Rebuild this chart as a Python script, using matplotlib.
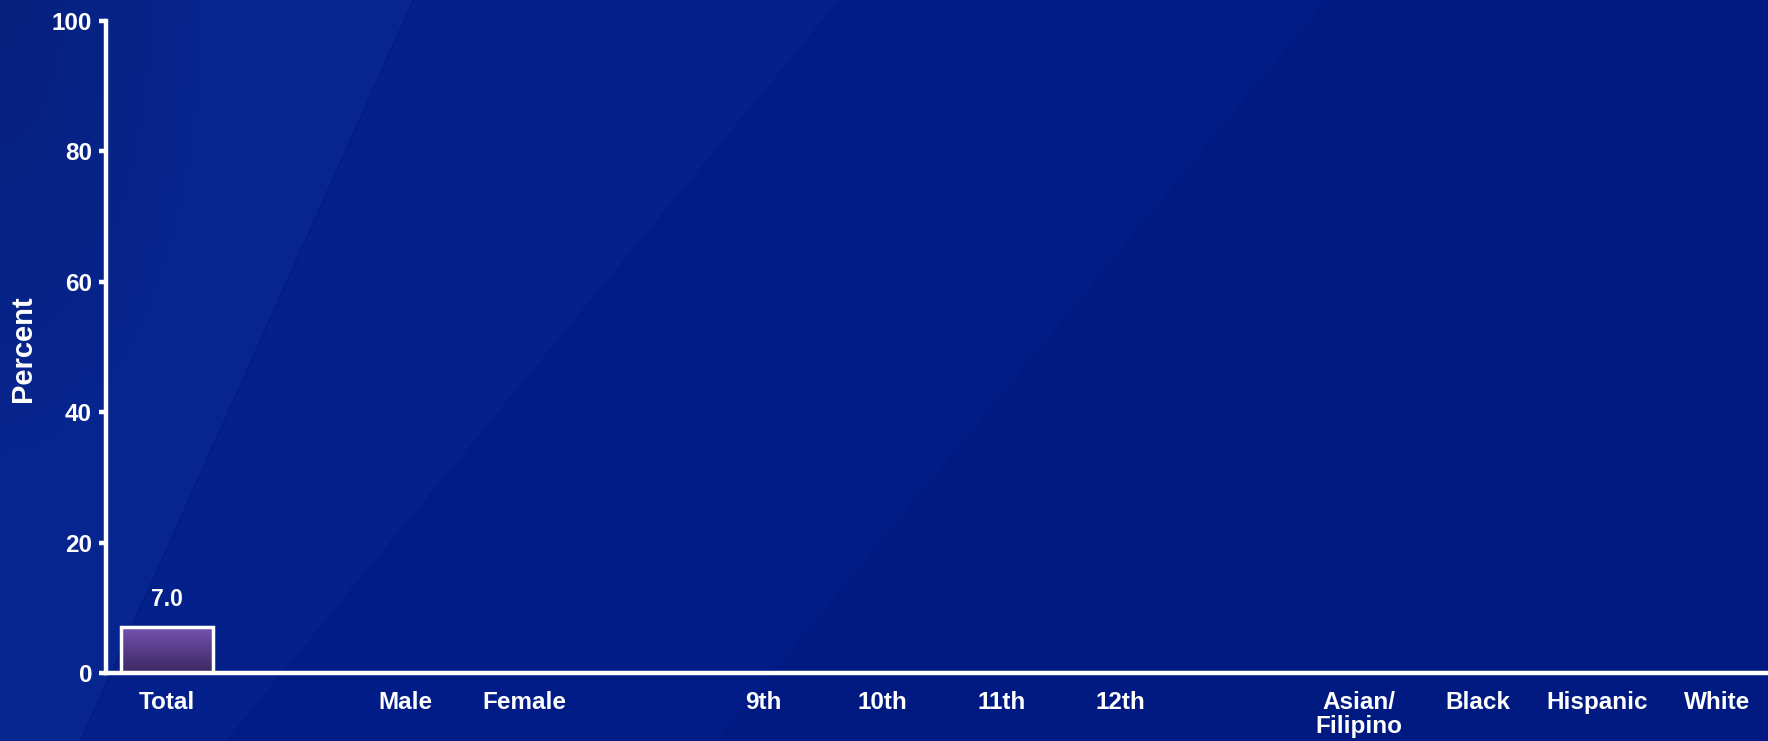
"""
plot.py

Single-bar percent chart on a dark blue slide background.
Output: out.png
"""

import numpy as np
import matplotlib.pyplot as plt
from matplotlib.colors import LinearSegmentedColormap, to_rgb

# -----------------------------------------------------------------------
# Data
# -----------------------------------------------------------------------
categories = ['Total', 'Male', 'Female', '9th', '10th', '11th', '12th',
              'Asian/\nFilipino', 'Black', 'Hispanic', 'White']
positions  = [0, 2, 3, 5, 6, 7, 8, 10, 11, 12, 13]
bar_cats   = ['Total']
bar_values = [7.0]
y_ticks    = [0, 20, 40, 60, 80, 100]

plt.rcParams['font.family'] = ['Liberation Sans', 'DejaVu Sans']
plt.rcParams['font.weight'] = 'bold'

W, H = 1768, 741
fig = plt.figure(figsize=(W / 100, H / 100), dpi=100)

# -----------------------------------------------------------------------
# Background: dark blue with faint diagonal wedges (slide template look)
# -----------------------------------------------------------------------
bg = fig.add_axes([0, 0, 1, 1])
bg.set_axis_off()
py, px = np.mgrid[0:H, 0:W].astype(float)


def left_of(x_bottom, x_top):
    # True for pixels left of the line joining (x_bottom, H) and (x_top, 0)
    x_line = x_top + (x_bottom - x_top) * py / H
    return px < x_line


img = np.ones((H, W, 3)) * to_rgb('#001a82')
img[left_of(715, 1325)] = to_rgb('#011c86')
img[left_of(224, 838)] = to_rgb('#03208b')
img[left_of(80, 413)] = to_rgb('#07258e')
# thin darker seam along the first edge
x1 = 413 + (80 - 413) * py / H
img[np.abs(px - x1) < 1.2] = to_rgb('#041d80')
# slightly darker top-left corner
shade = np.clip(1 - np.hypot(px / 200, py / 450), 0, 1)
img *= (1 - 0.12 * shade)[..., None]
bg.imshow(np.clip(img, 0, 1), extent=[0, 1, 0, 1], aspect='auto',
          origin='upper', interpolation='nearest')
bg.set_xlim(0, 1)
bg.set_ylim(0, 1)

# -----------------------------------------------------------------------
# Chart
# -----------------------------------------------------------------------
ax = fig.add_axes([106 / W, 1 - 673 / H, 1 - 106 / W, (673 - 21) / H])
ax.patch.set_alpha(0)

bar_x = [positions[categories.index(c)] for c in bar_cats]
bars = ax.bar(bar_x, bar_values, width=0.77, color='none',
              edgecolor='white', linewidth=2.5, zorder=3)

grad = LinearSegmentedColormap.from_list('purp', ['#3b2860', '#7452b0'])
for bar, val in zip(bars, bar_values):
    x0 = bar.get_x()
    w = bar.get_width()
    im = ax.imshow(np.linspace(0, 1, 64).reshape(-1, 1), cmap=grad,
                   origin='lower', aspect='auto',
                   extent=[x0, x0 + w, 0, bar.get_height()], zorder=2)
    im.set_clip_path(bar)
    ax.text(x0 + w / 2, val + 2.5, f'{val:.1f}', ha='center', va='bottom',
            color='white', fontsize=16.5, fontweight='bold')

ax.set_xlim(-0.51, 13.43)
ax.set_ylim(0, 100)
ax.set_aspect('auto')

ax.set_yticks(y_ticks)
ax.set_xticks(positions)
ax.set_xticklabels(categories, color='white', fontsize=17.5,
                   fontweight='bold', linespacing=1.05)
ax.tick_params(axis='x', length=0, pad=13)
ax.tick_params(axis='y', colors='white', labelsize=17.5, length=5,
               width=3.2, pad=5)

for side in ['top', 'right']:
    ax.spines[side].set_visible(False)
for side in ['left', 'bottom']:
    ax.spines[side].set_color('white')
    ax.spines[side].set_linewidth(3.2)

fig.text(23 / W, 1 - 349 / H, 'Percent', rotation=90, ha='center',
         va='center', color='white', fontsize=21, fontweight='bold')

fig.savefig('out.png', dpi=100)
